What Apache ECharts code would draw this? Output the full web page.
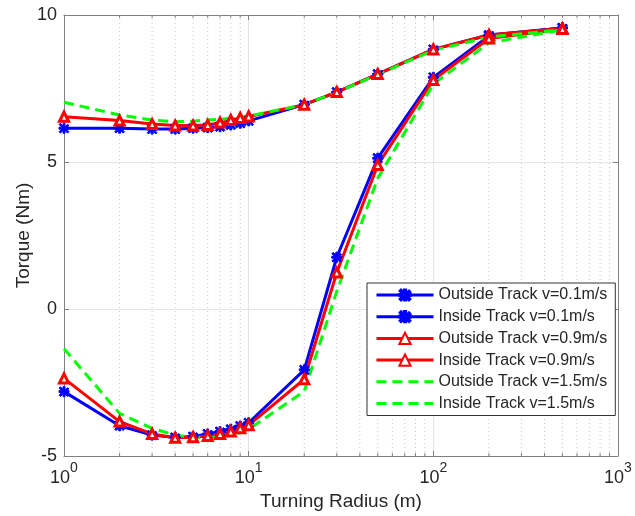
<!DOCTYPE html>
<html><head><meta charset="utf-8">
<script src="https://cdn.jsdelivr.net/npm/echarts@6/dist/echarts.min.js"></script>
<style>html,body{margin:0;padding:0;background:#fff}#c{width:635px;height:516px}</style>
</head><body><div id="c"></div>
<script>
// ---- data ----
const radius = [1, 2, 3, 4, 5, 6, 7, 8, 9, 10, 20, 30, 50, 100, 200, 500];
const outside01 = [6.15, 6.15, 6.12, 6.12, 6.15, 6.17, 6.2, 6.26, 6.32, 6.4, 6.95, 7.38, 7.99, 8.83, 9.32, 9.56];
const inside01  = [-2.81, -3.97, -4.29, -4.37, -4.34, -4.25, -4.17, -4.09, -3.98, -3.87, -2.07, 1.76, 5.13, 7.88, 9.29, 9.56];
const outside09 = [6.54, 6.41, 6.29, 6.24, 6.24, 6.26, 6.34, 6.43, 6.5, 6.55, 6.95, 7.38, 7.99, 8.83, 9.32, 9.55];
const inside09  = [-2.36, -3.83, -4.25, -4.38, -4.36, -4.32, -4.25, -4.17, -4.06, -3.95, -2.39, 1.24, 4.9, 7.79, 9.2, 9.52];
const outside15 = [7.03, 6.6, 6.43, 6.37, 6.39, 6.43, 6.45, 6.49, 6.52, 6.56, 6.95, 7.38, 7.97, 8.8, 9.25, 9.5];
const inside15  = [-1.35, -3.55, -4.06, -4.29, -4.37, -4.38, -4.34, -4.29, -4.21, -4.09, -2.8, 0.6, 4.45, 7.65, 9.05, 9.5];
const seriesNames = ['Outside Track v=0.1m/s', 'Inside Track v=0.1m/s', 'Outside Track v=0.9m/s',
                     'Inside Track v=0.9m/s', 'Outside Track v=1.5m/s', 'Inside Track v=1.5m/s'];
const xTickValues = [1, 10, 100, 1000];
const minorXValues = [2, 3, 4, 5, 6, 7, 8, 9, 20, 30, 40, 50, 60, 70, 80, 90, 200, 300, 400, 500, 600, 700, 800, 900];
const yTickValues = [-5, 0, 5, 10];
const xTitle = 'Turning Radius (m)';
const yTitle = 'Torque (Nm)';

// ---- styles ----
const FONT = 'Liberation Sans, Arial, Helvetica, sans-serif';
const AX = '#808080';
const TXT = '#262626';
const BLUE = '#0000ff', RED = '#ff0000', GREEN = '#00ff00';
const ASTER = 'path://M4,0H6V3.6L8.6,1L9.9,2.4L7.3,4H10V6H7.3L9.9,8.6L8.6,9.9L6,7.3V10H4V7.3L1.4,9.9L0.1,8.6L2.7,6H0V4H2.7L0.1,1.4L1.4,0.1L4,2.7Z';

const pair = (ys) => radius.map((x, i) => [x, ys[i]]);

function lineSeries(name, ys, color, kind) {
  const s = {
    name, type: 'line', data: pair(ys), z: 3,
    lineStyle: { color, width: 3 },
    itemStyle: { color },
    emphasis: { disabled: true },
    animation: false
  };
  if (kind === 'aster') {
    s.symbol = ASTER; s.symbolSize = 10;
    s.itemStyle = { color, borderColor: color, borderWidth: 1 };
  } else if (kind === 'tri') {
    s.symbol = 'triangle'; s.symbolSize = 9;
    s.itemStyle = { color: '#ffffff', borderColor: color, borderWidth: 3 };
  } else {
    s.symbol = 'circle'; s.symbolSize = 0; s.showSymbol = false;
    s.itemStyle = { color: 'rgba(0,0,0,0)', borderWidth: 0 };
    s.lineStyle = { color, width: 3, type: [10, 6] };
  }
  return s;
}

const minorSeries = {
  type: 'custom', silent: true, z: 1, clip: false, animation: false,
  data: minorXValues.map(v => [v, 0]),
  encode: { x: 0, y: 1 },
  renderItem: function (params, api) {
    const x = api.coord([api.value(0), 0])[0];
    const cs = params.coordSys;
    return { type: 'group', children: [
      { type: 'line', shape: { x1: x, y1: cs.y, x2: x, y2: cs.y + cs.height },
        style: { stroke: '#c4c4c4', lineWidth: 1, lineDash: [1, 3] } },
      { type: 'line', shape: { x1: x, y1: cs.y + cs.height, x2: x, y2: cs.y + cs.height - 3 },
        style: { stroke: AX, lineWidth: 1 } },
      { type: 'line', shape: { x1: x, y1: cs.y, x2: x, y2: cs.y + 3 },
        style: { stroke: AX, lineWidth: 1 } }
    ]};
  }
};

const chart = echarts.init(document.getElementById('c'), null, { renderer: 'canvas' });
chart.setOption({
  animation: false,
  backgroundColor: '#ffffff',
  grid: { left: 64, right: 17, top: 15, bottom: 60, show: false },
  xAxis: [{
    type: 'log', logBase: 10, min: 1, max: 1000, splitNumber: 3,
    name: xTitle, nameLocation: 'middle', nameGap: 30,
    nameTextStyle: { fontFamily: FONT, fontSize: 19, color: TXT },
    axisLine: { show: true, onZero: false, lineStyle: { color: AX, width: 1 } },
    axisTick: { show: true, inside: true, length: 5, lineStyle: { color: AX } },
    splitLine: { show: true, lineStyle: { color: '#e4e4e4', width: 1 } },
    axisLabel: {
      margin: 5,
      formatter: function (v) {
        if (xTickValues.indexOf(v) < 0) return '';
        return '{a|10}{b|' + Math.round(Math.log10(v)) + '}';
      },
      rich: {
        a: { fontFamily: FONT, fontSize: 18, color: TXT, lineHeight: 26, verticalAlign: 'bottom' },
        b: { fontFamily: FONT, fontSize: 14, color: TXT, lineHeight: 26, verticalAlign: 'top' }
      }
    }
  }, {
    type: 'log', logBase: 10, min: 1, max: 1000, splitNumber: 3, position: 'top',
    axisLine: { show: true, onZero: false, lineStyle: { color: AX, width: 1 } },
    axisTick: { show: true, inside: true, length: 5, lineStyle: { color: AX } },
    axisLabel: { show: false }, splitLine: { show: false }
  }],
  yAxis: [{
    type: 'value', min: -5, max: 10, interval: 5,
    name: yTitle, nameLocation: 'middle', nameGap: 31, nameMoveOverlap: false,
    nameTextStyle: { fontFamily: FONT, fontSize: 19, color: TXT },
    axisLine: { show: true, onZero: false, lineStyle: { color: AX, width: 1 } },
    axisTick: { show: true, inside: true, length: 5, lineStyle: { color: AX } },
    splitLine: { show: true, lineStyle: { color: '#e4e4e4', width: 1 } },
    axisLabel: { margin: 7, fontFamily: FONT, fontSize: 18, color: TXT,
      formatter: v => (yTickValues.indexOf(v) >= 0 ? String(v) : '') }
  }, {
    type: 'value', min: -5, max: 10, interval: 5, position: 'right',
    axisLine: { show: true, onZero: false, lineStyle: { color: AX, width: 1 } },
    axisTick: { show: true, inside: true, length: 5, lineStyle: { color: AX } },
    axisLabel: { show: false }, splitLine: { show: false }
  }],
  legend: {
    data: seriesNames, orient: 'vertical', left: 367, top: 283,
    itemWidth: 57, itemHeight: 14, itemGap: 5.7,
    padding: [4, 8, 4, 8],
    backgroundColor: '#ffffff', borderColor: '#333333', borderWidth: 1,
    lineStyle: { width: 3 },
    textStyle: { fontFamily: FONT, fontSize: 16, color: TXT },
    selectedMode: false
  },
  series: [
    minorSeries,
    lineSeries(seriesNames[0], outside01, BLUE, 'aster'),
    lineSeries(seriesNames[1], inside01, BLUE, 'aster'),
    lineSeries(seriesNames[2], outside09, RED, 'tri'),
    lineSeries(seriesNames[3], inside09, RED, 'tri'),
    lineSeries(seriesNames[4], outside15, GREEN, 'dash'),
    lineSeries(seriesNames[5], inside15, GREEN, 'dash')
  ]
});
</script>
</body></html>
